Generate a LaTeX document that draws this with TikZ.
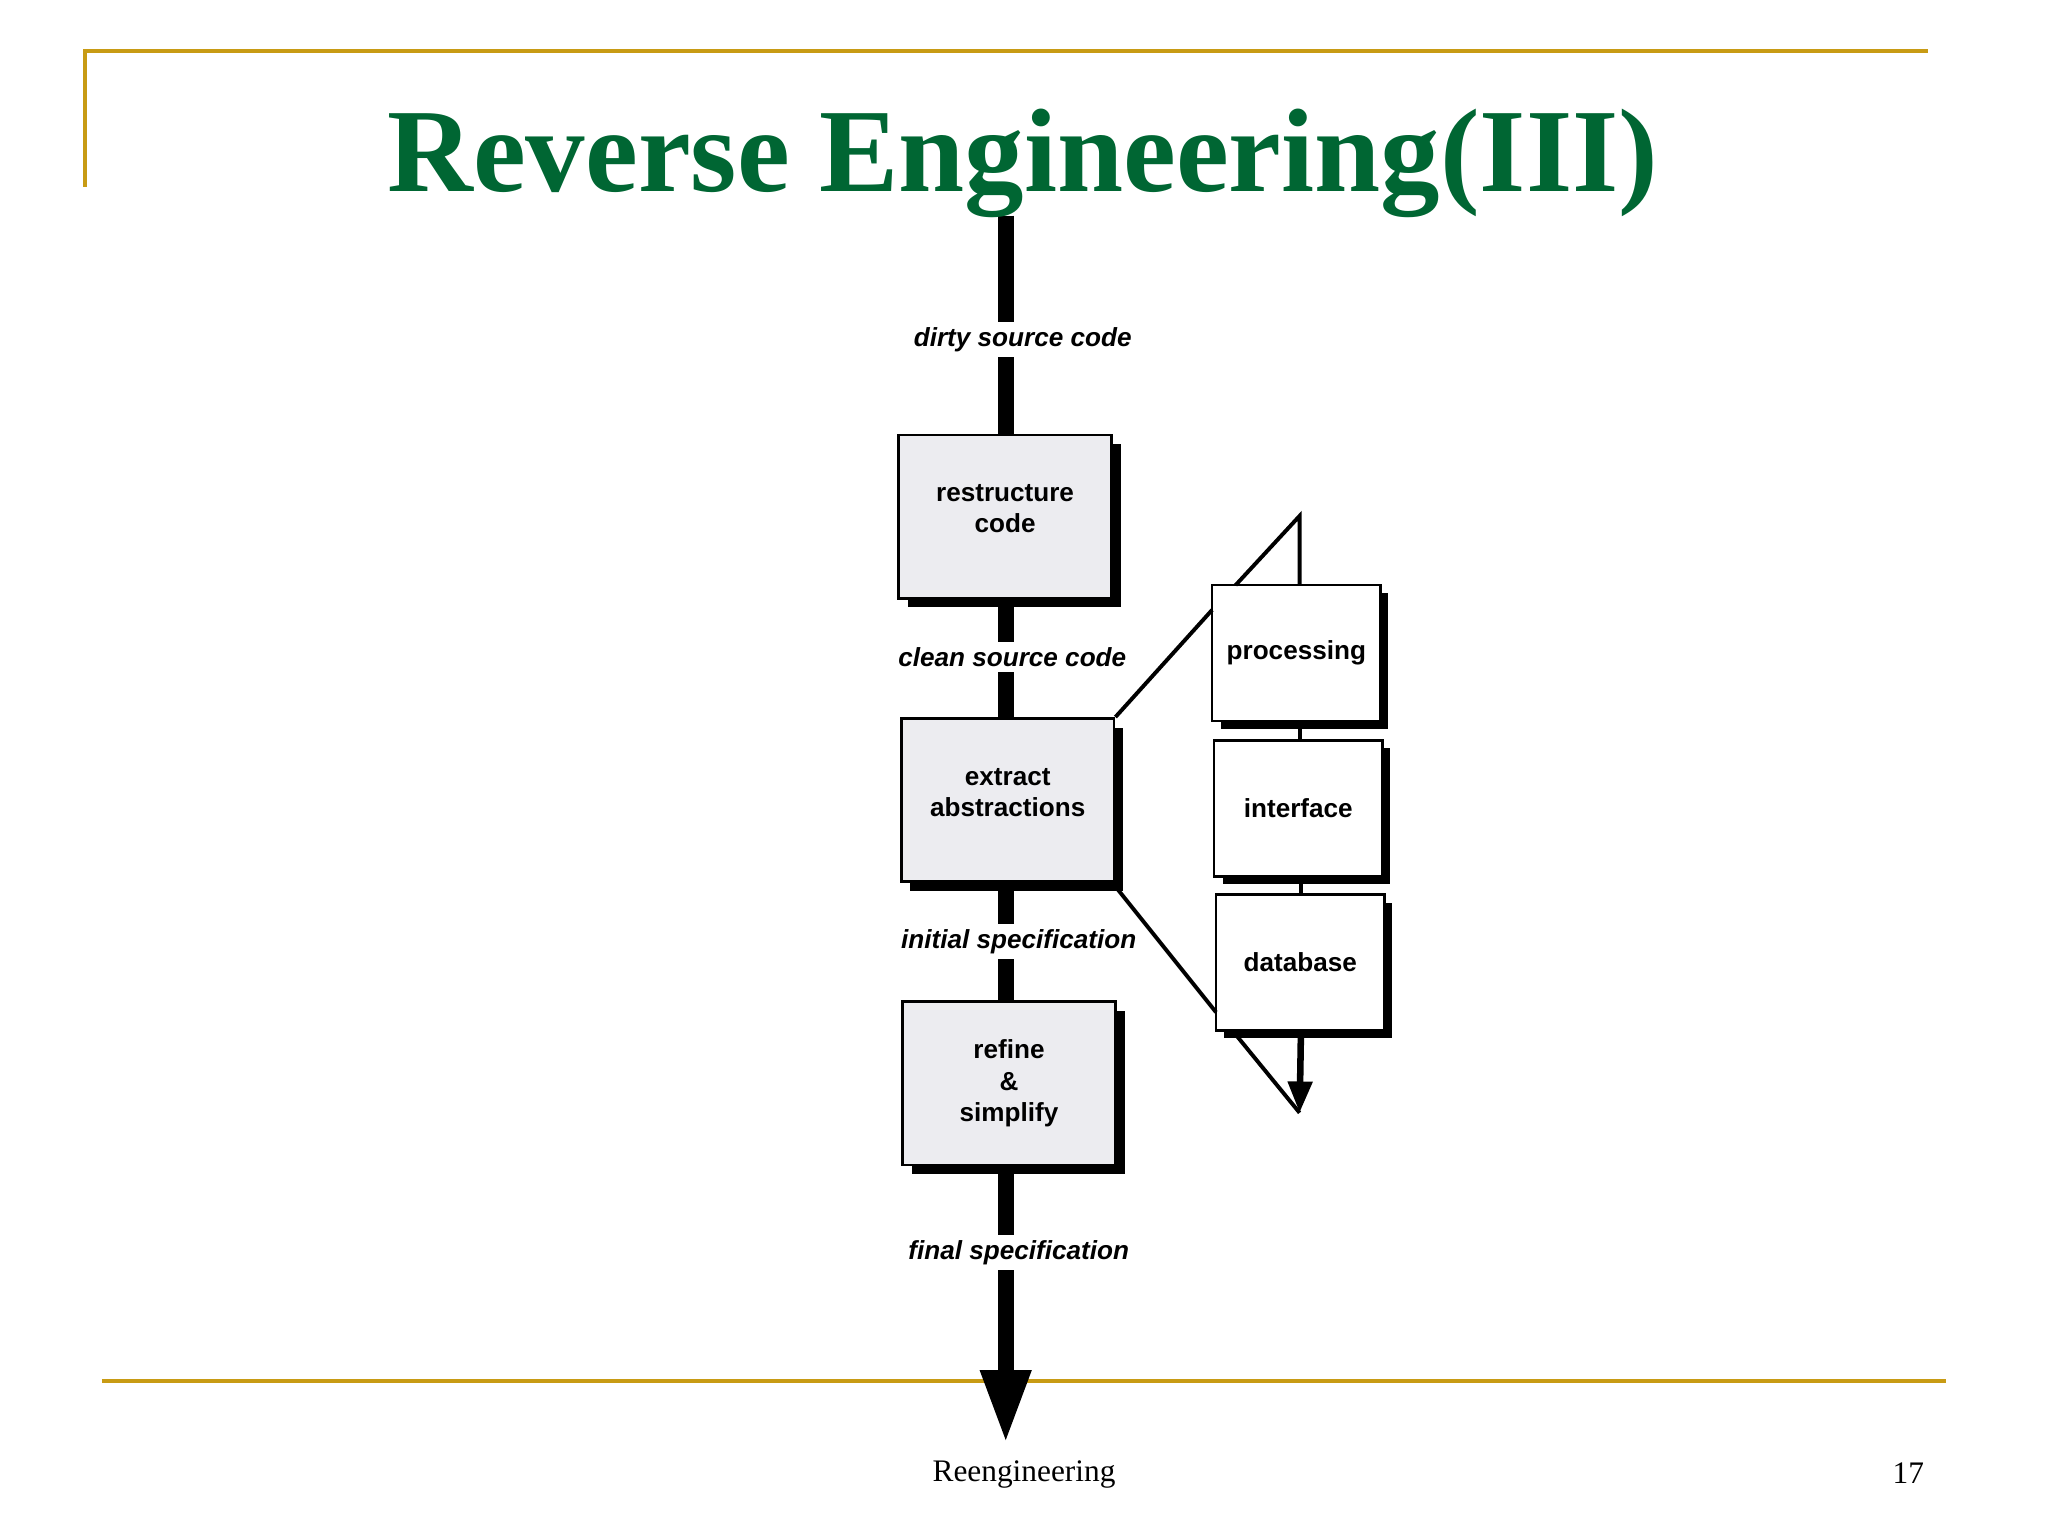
\documentclass[tikz,border=0pt]{standalone}
\usepackage{fontspec}
\setmainfont{Liberation Serif}
\newfontfamily\sansf{Liberation Sans}
\usetikzlibrary{arrows.meta}
\definecolor{gold}{RGB}{200,155,20}
\definecolor{tgreen}{RGB}{0,102,51}
\definecolor{boxg}{RGB}{236,236,240}
\begin{document}
\begin{tikzpicture}[x=0.5pt,y=-0.5pt,
  box/.style={draw=black,line width=1pt,fill=boxg,minimum width=81.5pt,minimum height=62.5pt,align=center,font=\sansf\bfseries\fontsize{10}{12}\selectfont,inner sep=0pt},
  wbox/.style={box,fill=white,minimum width=64.5pt,minimum height=52pt},
  lab/.style={fill=white,font=\sansf\bfseries\itshape\fontsize{10}{12}\selectfont,inner sep=2pt},
  thin/.style={line width=1.5pt}]
\useasboundingbox (0,0) rectangle (1568,1176);
\draw[gold,line width=1.5pt] (65,143) -- (65,39) -- (1476,39);
\draw[gold,line width=1.5pt] (78,1057) -- (1490,1057);
% main line
\coordinate (top) at (770,165);
\coordinate (tip) at (770,1105);
\draw[line width=6pt,-{Triangle[length=28pt,width=18pt]}] (top) -- (tip);
\node[font=\bfseries\fontsize{45.5}{50}\selectfont,text=tgreen] (title) at (783,125) {Reverse Engineering(III)};
% shadows
\fill (695,340) rectangle (858,465);
\fill (697,557) rectangle (860,682);
\fill (698,774) rectangle (861,899);
\node[box] (b1) at (769.5,395.5) {restructure\\code\\[-6pt]};
\node[box] (b2) at (771.5,612.5) {extract\\abstractions\\[-6pt]};
\node[box] (b3) at (772.5,829.5) {refine\\\&\\simplify};
\node[lab] (l1) at (783,260) {dirty source code};
\node[lab] (l2) at (775,503) {clean source code};
\node[lab] (l3) at (780,721) {initial specification};
\node[lab] (l4) at (780,959) {final specification};
% right boxes
\draw[thin] (995,552) -- (995,567) (996,671) -- (996,685);
\fill (1063,558) rectangle (935,454);
\fill (1064,677) rectangle (936,573);
\fill (1066,795) rectangle (937,691);
\node[wbox] (p) at (992.5,500) {processing};
\node[wbox] (i) at (994,619) {interface};
\node[wbox] (d) at (995.5,737) {database};
\coordinate (lt) at (995,395);
\coordinate (lb) at (995,852);
\draw[thin] (b2.north east) -- (928,467);
\draw[thin] (855,680) -- (931,775);
\draw[thin] (946,448) -- (lt) -- (995,448);
\draw[thin] (946,792) -- (lb);
\draw[line width=2.5pt,-{Triangle[length=12pt,width=9pt]}] (996,792) -- (lb);
\node[font=\fontsize{12}{14}\selectfont] (f1) at (784,1129) {Reengineering};
\node[font=\fontsize{12}{14}\selectfont] (f2) at (1461,1128) {17};
\end{tikzpicture}
\end{document}
